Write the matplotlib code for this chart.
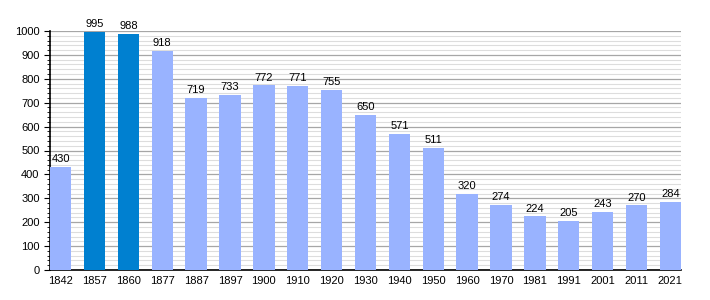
import matplotlib.pyplot as plt
from matplotlib.ticker import MultipleLocator

plt.rcParams['font.family'] = ['Liberation Sans', 'DejaVu Sans']

years = ['1842', '1857', '1860', '1877', '1887', '1897', '1900', '1910', '1920', '1930',
         '1940', '1950', '1960', '1970', '1981', '1991', '2001', '2011', '2021']
pop = [430, 995, 988, 918, 719, 733, 772, 771, 755, 650,
       571, 511, 320, 274, 224, 205, 243, 270, 284]
highlight = ['1857', '1860']

w = 0.63
fig = plt.figure(figsize=(7.1, 3.0), dpi=100)
ax = fig.add_axes([50/710, 30/300, 631/710, 239/300])

colors = ['#0080d0' if y in highlight else '#99b3ff' for y in years]
x = list(range(len(years)))
ax.bar(x, pop, width=w, color=colors, zorder=3)
for i, v in enumerate(pop):
    ax.text(i, v + 12, str(v), ha='center', va='bottom', fontsize=8, zorder=4)

ax.set_xlim(-w/2, len(years) - 1 + w/2)
ax.set_ylim(0, 1000)
ax.yaxis.set_major_locator(MultipleLocator(100))
ax.yaxis.set_minor_locator(MultipleLocator(20))
ax.grid(axis='y', which='major', color='#a6a6a6', linewidth=0.9, zorder=0)
ax.grid(axis='y', which='minor', color='#dddddd', linewidth=0.8, zorder=0)
ax.set_xticks(x)
ax.set_xticklabels(years)
ax.tick_params(axis='x', length=0, labelsize=8, pad=4)
ax.tick_params(axis='y', which='major', length=4, labelsize=8, direction='out')
ax.tick_params(axis='y', which='minor', length=2, direction='out')
for s in ['top', 'right']:
    ax.spines[s].set_visible(False)
ax.spines['left'].set_linewidth(1.2)
ax.spines['bottom'].set_linewidth(1.2)

fig.savefig('out.png', dpi=100)
